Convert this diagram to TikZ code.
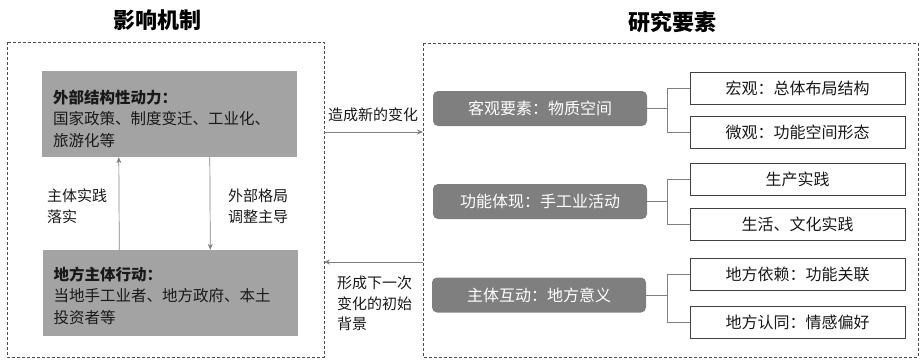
\documentclass[tikz,border=0pt]{standalone}
\usepackage{fontspec}
\setmainfont{Noto Sans CJK SC}
\usetikzlibrary{arrows.meta}
\definecolor{boxgray}{HTML}{A3A3A3}
\definecolor{darkgray}{HTML}{7F7F7F}
\definecolor{linegray}{HTML}{808080}
\begin{document}
\begin{tikzpicture}[x=1pt,y=-1pt,
  frame/.style={draw=black!70,dashed,dash pattern=on 3pt off 2pt,line width=0.6pt},
  title/.style={font=\fontsize{22}{26}\selectfont\bfseries},
  graybox/.style={fill=boxgray,minimum width=255pt,minimum height=86pt,text width=233pt,
    inner xsep=11pt,align=left,font=\fontsize{15.5}{21.5}\selectfont,text=black!90},
  darkbox/.style={fill=darkgray,rounded corners=5pt,minimum width=214pt,minimum height=35pt,
    text=white,font=\fontsize{16}{19}\selectfont},
  whitebox/.style={draw=black!75,line width=0.7pt,minimum width=215pt,minimum height=32pt,
    font=\fontsize{16}{19}\selectfont,text=black!90},
  lbl/.style={align=left,font=\fontsize{15}{20.5}\selectfont,text=black!90,inner sep=0pt},
  arr/.style={draw=linegray,line width=0.7pt,-{Stealth[length=6pt,width=5pt]}},
  conn/.style={draw=linegray,line width=0.7pt}]
  \useasboundingbox (0,0) rectangle (921,359);
  % frames and titles
  \draw[frame] (7,42) rectangle (324,357);
  \draw[frame] (423,43) rectangle (918,357);
  \coordinate (lf) at (324,0);
  \coordinate (rf) at (423,0);
  \node[title] (t1) at (157,20) {影响机制};
  \node[title] (t2) at (672,22) {研究要素};
  % left side
  \node[graybox] (high) at (169.5,114) {\rule{0pt}{23pt}\textbf{外部结构性动力：}\\国家政策、制度变迁、工业化、\\旅游化等};
  \node[graybox] (low) at (170,293) {\rule{0pt}{19pt}\textbf{地方主体行动：}\\当地手工业者、地方政府、本土\\投资者等};
  \draw[arr] ([xshift=77pt]low.north west) -- ([xshift=77pt]high.south west);
  \draw[arr] ([xshift=168pt]high.south west) -- ([xshift=168pt]low.north west);
  \node[lbl,anchor=north west] (l1) at (47,189) {主体实践\\落实};
  \node[lbl,anchor=north west] (l2) at (228,189) {外部格局\\调整主导};
  % between the frames
  \draw[arr] (lf |- 0,132) -- (rf |- 0,132);
  \draw[arr] (rf |- 0,262) -- (lf |- 0,262);
  \node[lbl] (m1) at (373,115) {造成新的变化};
  \node[lbl,anchor=north west] (m2) at (337,276) {形成下一次\\变化的初始\\背景};
  % right side
  \node[darkbox] (obj) at (540,108.5) {客观要素：物质空间};
  \node[darkbox] (fun) at (540,201.5) {功能体现：手工业活动};
  \node[darkbox] (sub) at (539,295) {主体互动：地方意义};
  \node[whitebox] (w1) at (797.5,88) {宏观：总体布局结构};
  \node[whitebox] (w2) at (797.5,132.5) {微观：功能空间形态};
  \node[whitebox] (w3) at (797.5,179) {生产实践};
  \node[whitebox] (w4) at (797.5,224.5) {生活、文化实践};
  \node[whitebox] (w5) at (797.5,274.5) {地方依赖：功能关联};
  \node[whitebox] (w6) at (797.5,322) {地方认同：情感偏好};
  \draw[conn] (obj.east) -- ++(20,0) |- (w1.west);
  \draw[conn] (obj.east) -- ++(20,0) |- (w2.west);
  \draw[conn] (fun.east) -- ++(20,0) |- (w3.west);
  \draw[conn] (fun.east) -- ++(20,0) |- (w4.west);
  \draw[conn] (sub.east) -- ++(21,0) |- (w5.west);
  \draw[conn] (sub.east) -- ++(21,0) |- (w6.west);
\end{tikzpicture}
\end{document}
